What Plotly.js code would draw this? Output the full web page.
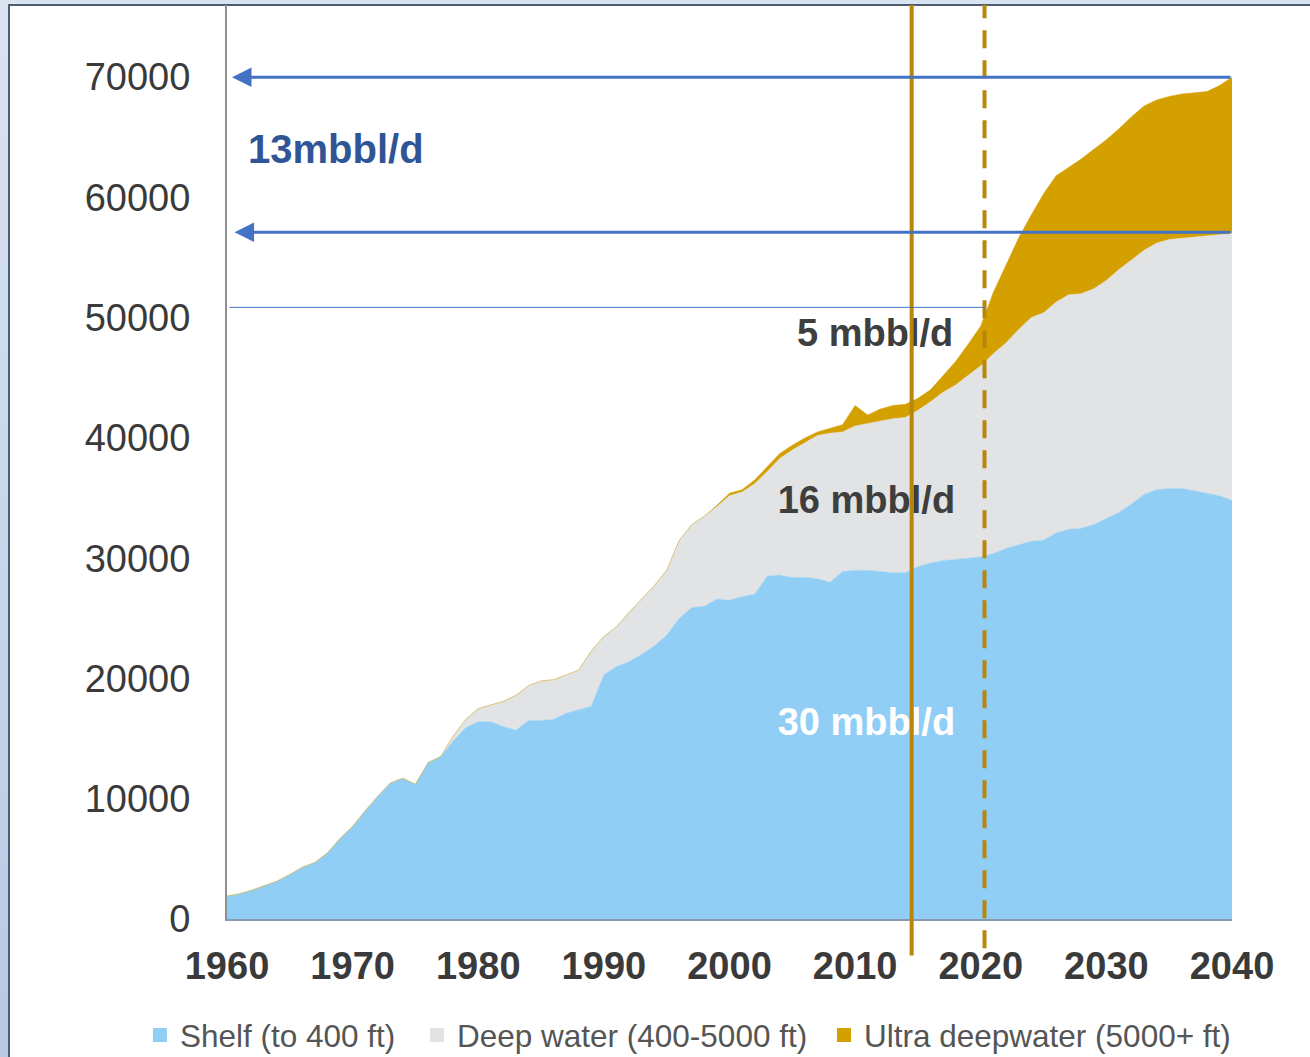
<!DOCTYPE html>
<html>
<head>
<meta charset="utf-8">
<script src="https://cdn.plot.ly/plotly-3.0.1.min.js"></script>
<style>
  html, body { margin: 0; padding: 0; width: 1310px; height: 1057px; overflow: hidden;
    background: linear-gradient(to bottom, #d9e4f2, #b7c9e3); }
  #frame { position: absolute; left: 8px; top: 4px; width: 1302px; height: 1053px;
    background: #ffffff; border-left: 2px solid #4f5d72; border-top: 2px solid #4f5d72; box-sizing: border-box; }
  #chart { position: absolute; left: 0; top: 0; width: 1310px; height: 1057px; }
</style>
</head>
<body>
<div id="frame"></div>
<div id="chart"></div>
<script>
// ---- data (thousand barrels per day) ----
const years = [1960,1961,1962,1963,1964,1965,1966,1967,1968,1969,
  1970,1971,1972,1973,1974,1975,1976,1977,1978,1979,
  1980,1981,1982,1983,1984,1985,1986,1987,1988,1989,
  1990,1991,1992,1993,1994,1995,1996,1997,1998,1999,
  2000,2001,2002,2003,2004,2005,2006,2007,2008,2009,
  2010,2011,2012,2013,2014,2015,2016,2017,2018,2019,
  2020,2021,2022,2023,2024,2025,2026,2027,2028,2029,
  2030,2031,2032,2033,2034,2035,2036,2037,2038,2039,2040];

const shelf = [1900,2100,2400,2800,3150,3700,4300,4700,5500,6700,
  7700,9000,10200,11300,11700,11200,13000,13500,14800,15900,
  16400,16400,16000,15700,16500,16500,16600,17100,17400,17700,
  20300,21000,21400,22000,22700,23600,25000,25900,26000,26600,
  26500,26800,27000,28500,28600,28400,28400,28300,28000,28900,
  29000,29000,28900,28800,28800,29300,29600,29800,29900,30000,
  30100,30400,30800,31100,31400,31500,32100,32400,32500,32800,
  33300,33800,34500,35300,35700,35800,35800,35600,35400,35200,34800];

const deepWater = [0,0,0,0,0,0,0,0,0,0,
  0,0,0,0,0,0,0,0,400,700,
  1100,1400,2100,2900,2900,3300,3300,3200,3300,4600,
  3200,3300,4100,4600,5000,5400,6500,6900,7500,7700,
  8700,8700,9200,8700,9700,10600,11200,11900,12400,11600,
  12000,12200,12500,12800,12900,13000,13400,14000,14500,15200,
  15900,16600,17100,17900,18600,18900,19200,19500,19500,19600,
  19800,20200,20300,20300,20500,20700,20800,21100,21400,21700,22200];

const ultraDeep = [0,0,0,0,0,0,0,0,0,0,
  0,0,0,0,0,0,0,0,0,0,
  0,0,0,0,0,0,0,0,0,0,
  0,0,0,0,0,0,0,0,0,100,
  200,200,300,400,400,400,400,300,400,600,
  1700,700,1000,1100,1100,1000,1000,1400,1950,2600,
  3300,5100,6400,7600,8500,9900,10500,10600,11200,11600,
  11700,11700,11900,12000,11900,11900,12000,12000,12000,12400,13000];

const seriesNames = ["Shelf (to 400 ft)", "Deep water (400-5000 ft)", "Ultra deepwater (5000+ ft)"];
const yTicks = [0,10000,20000,30000,40000,50000,60000,70000];
const xTicks = [1960,1970,1980,1990,2000,2010,2020,2030,2040];

// reference markers
const todayYear = 2014.5;       // solid vertical line
const forecastYear = 2020.3;    // dashed vertical line
const arrowTop = 70000;         // upper arrow level
const arrowBottom = 57100;      // lower arrow level
const guideLevel = 50860;       // thin guide line level

const labelText = ["5 mbbl/d", "16 mbbl/d", "30 mbbl/d"];
const labelX = [2011.6, 2010.9, 2010.9];
const labelY = [48440, 34540, 16060];
const rangeLabel = "13mbbl/d";

const colShelf = "#90cef6", colDeep = "#e1e3e5", colUltra = "#d4a000";
const colVert = "#b8860b", colArrow = "#4472c4";
const seriesColors = [colShelf, colDeep, colUltra];
const seriesValues = [shelf, deepWater, ultraDeep];

const FONT = "Liberation Sans, Arial, sans-serif";
const legendIds = ["legend", "legend2", "legend3"];
const legendLeft = [0.1068, 0.3183, 0.6290];   // container fractions

const traces = [];
seriesValues.forEach((vals, i) => {
  traces.push({ x: years, y: vals, name: seriesNames[i], type: "scatter", mode: "lines",
    stackgroup: "one", line: { width: 0.5, color: seriesColors[i] }, fillcolor: seriesColors[i],
    hoverinfo: "skip", showlegend: false });
});
// legend entries with small square keys, as in the reference
seriesNames.forEach((nm, i) => {
  traces.push({ x: [null], y: [null], name: nm, type: "scatter", mode: "markers",
    marker: { symbol: "square", size: 14, color: seriesColors[i] }, showlegend: true, legend: legendIds[i] });
});
traces.push({ x: labelX, y: labelY, text: labelText, type: "scatter", mode: "text", showlegend: false,
  textfont: { family: FONT, size: 38, weight: "bold", color: ["#3e3e3e", "#3e3e3e", "#ffffff"] },
  hoverinfo: "skip" });

const layout = {
  width: 1310, height: 1057,
  margin: { l: 227, r: 78, t: 5, b: 138, autoexpand: false },
  paper_bgcolor: "rgba(0,0,0,0)",
  plot_bgcolor: "rgba(0,0,0,0)",
  showlegend: true,
  xaxis: {
    range: [1960, 2040], tickvals: xTicks, ticktext: xTicks.map(String), automargin: false, tickangle: 0,
    showgrid: false, zeroline: false, showline: true, linecolor: "#8a98ad", linewidth: 2,
    ticks: "", ticklabelstandoff: 12,
    tickfont: { family: FONT, size: 38, weight: "bold", color: "#3a3a3a" }
  },
  yaxis: {
    range: [0, 76000], tickvals: yTicks, ticktext: yTicks.map(String), automargin: false,
    showgrid: false, zeroline: false, showline: true, linecolor: "#909090", linewidth: 2,
    ticks: "", ticklabelstandoff: 27,
    tickfont: { family: FONT, size: 38, color: "#3a3a3a" }
  },
  shapes: [
    { type: "line", xref: "x", yref: "paper", x0: todayYear, x1: todayYear, y0: -0.04, y1: 1,
      line: { color: colVert, width: 4 }, layer: "above" },
    { type: "line", xref: "x", yref: "paper", x0: forecastYear, x1: forecastYear, y0: -0.032, y1: 1,
      line: { color: colVert, width: 4, dash: "18px,12px" }, layer: "above" },
    { type: "line", xref: "x", yref: "y", x0: 1960.2, x1: forecastYear, y0: guideLevel, y1: guideLevel,
      line: { color: colArrow, width: 1 }, layer: "above" }
  ],
  annotations: [
    { x: 1960.4, y: arrowTop, ax: 2040, ay: arrowTop, axref: "x", ayref: "y", xref: "x", yref: "y",
      text: "", showarrow: true, arrowhead: 2, arrowsize: 1.3, arrowwidth: 3, arrowcolor: colArrow, standoff: 0 },
    { x: 1960.6, y: arrowBottom, ax: 2040, ay: arrowBottom, axref: "x", ayref: "y", xref: "x", yref: "y",
      text: "", showarrow: true, arrowhead: 2, arrowsize: 1.3, arrowwidth: 3, arrowcolor: colArrow, standoff: 0 },
    { x: 1961.5, y: 64000, xref: "x", yref: "y", xanchor: "left", yanchor: "middle", showarrow: false,
      text: rangeLabel, font: { family: FONT, size: 40, weight: "bold", color: "#2f5597" } }
  ]
};
legendIds.forEach((id, i) => {
  layout[id] = {
    orientation: "h", xref: "container", yref: "container",
    x: legendLeft[i], y: 0.0208, xanchor: "left", yanchor: "middle",
    font: { family: FONT, size: 31.5, color: "#555555" },
    itemwidth: 30, bgcolor: "rgba(0,0,0,0)", borderwidth: 0
  };
});

Plotly.newPlot("chart", traces, layout, { displayModeBar: false, staticPlot: true });
</script>
</body>
</html>
